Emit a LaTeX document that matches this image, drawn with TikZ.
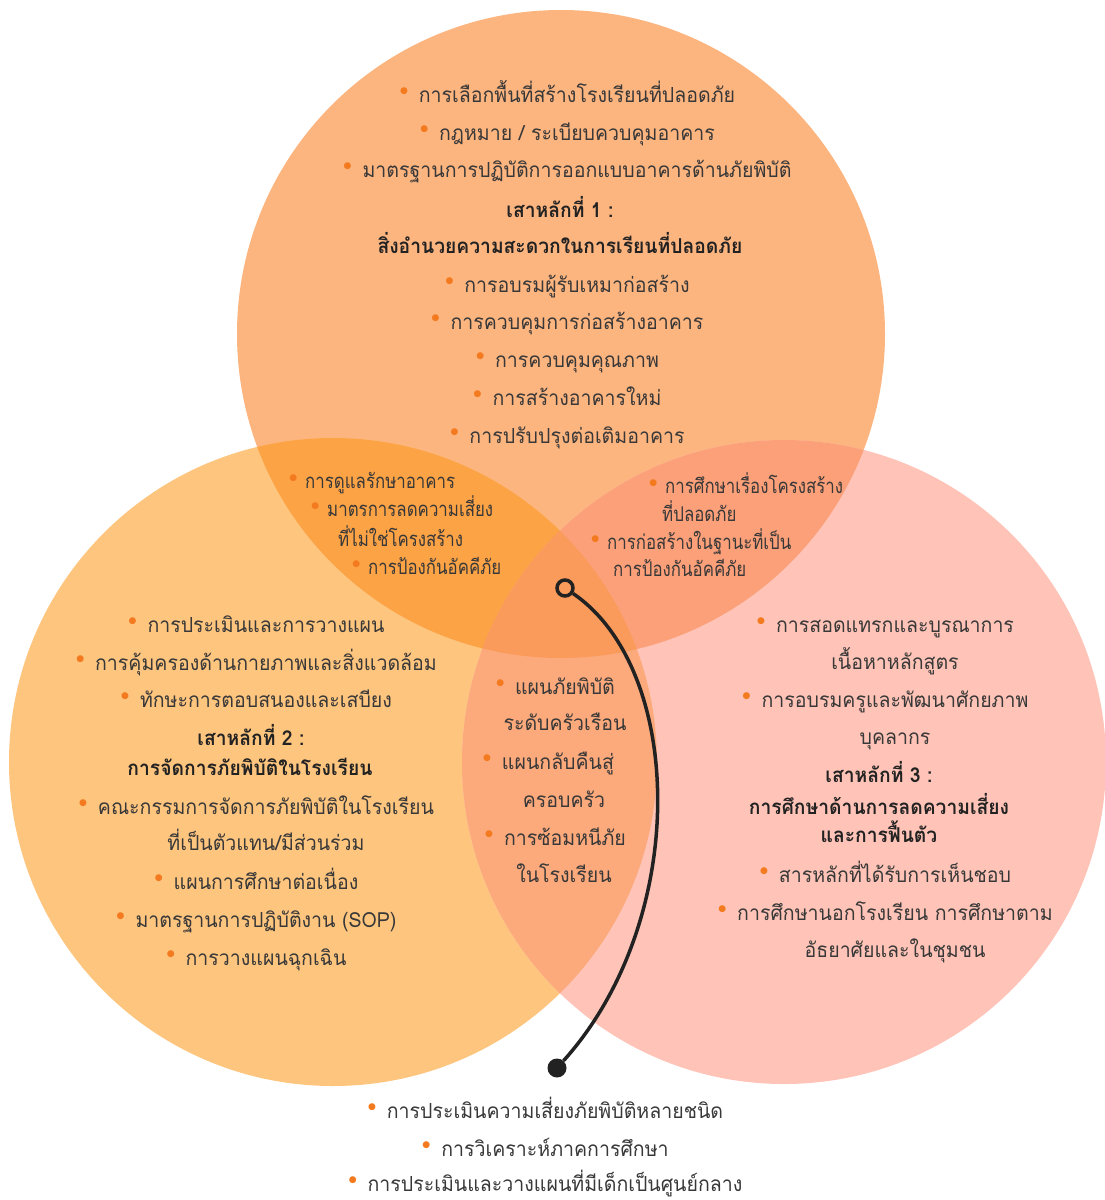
\documentclass[tikz,border=0pt]{standalone}
\usepackage{fontspec}
\setmainfont[Script=Thai, FakeStretch=0.94]{Loma}
\newfontfamily\narrowthai[Script=Thai, FakeStretch=0.83]{Loma}
\newfontfamily\dejavu{DejaVu Sans}
\definecolor{cT}{HTML}{FDB580}
\definecolor{cL}{HTML}{FEC57F}
\definecolor{cR}{HTML}{FFC4B7}
\definecolor{cTL}{HTML}{FCA346}
\definecolor{cTR}{HTML}{FBA079}
\definecolor{cLR}{HTML}{FCAA7C}
\definecolor{cTLR}{HTML}{FA9A5B}
\definecolor{txtcol}{HTML}{383838}
\definecolor{hdcol}{HTML}{222222}
\definecolor{bulcol}{HTML}{F47A1F}
\definecolor{linecol}{HTML}{222222}
\newcommand{\bl}{\llap{\raisebox{8.5pt}{\textcolor{bulcol}{\dejavu\fontsize{9}{9}\selectfont ●}}\hspace{11pt}}}
\newcommand{\bls}{\llap{\raisebox{8pt}{\textcolor{bulcol}{\dejavu\fontsize{9}{9}\selectfont ●}}\hspace{8pt}}}
\begin{document}
\begin{tikzpicture}[x=1pt,y=-1pt,
  txt/.style={font=\fontsize{20.8}{24}\selectfont, text=txtcol, inner sep=0pt, anchor=base},
  hd/.style={font=\fontsize{20.5}{24}\selectfont\bfseries, text=hdcol, inner sep=0pt, anchor=base},
  lt/.style={font=\narrowthai\fontsize{20.3}{23}\selectfont, text=txtcol, inner sep=0pt, anchor=base west},
  conn/.style={draw=linecol, line width=3.5pt},
  ringnode/.style={circle, draw=linecol, line width=3.5pt, minimum size=16pt, inner sep=0pt},
  dotnode/.style={circle, fill=linecol, minimum size=19pt, inner sep=0pt}]
\useasboundingbox (0,0) rectangle (1105,1200);
\coordinate (T) at (561,334);
\coordinate (L) at (333,762);
\coordinate (R) at (784,762);
% single circles
\fill[cT] (T) circle[radius=324pt];
\fill[cL] (L) circle[radius=324pt];
\fill[cR] (R) circle[radius=322pt];
% pairwise overlaps
\begin{scope}\clip (T) circle[radius=324pt]; \fill[cTL] (L) circle[radius=324pt];\end{scope}
\begin{scope}\clip (T) circle[radius=324pt]; \fill[cTR] (R) circle[radius=322pt];\end{scope}
\begin{scope}\clip (L) circle[radius=324pt]; \fill[cLR] (R) circle[radius=322pt];\end{scope}
\begin{scope}\clip (T) circle[radius=324pt]; \clip (L) circle[radius=324pt]; \fill[cTLR] (R) circle[radius=322pt];\end{scope}

% top circle
\node[txt] (t1) at (577,102) {\bl การเลือกพื้นที่สร้างโรงเรียนที่ปลอดภัย};
\node[txt] (t2) at (577,140) {\bl กฎหมาย / ระเบียบควบคุมอาคาร};
\node[txt] (t3) at (577,177) {\bl มาตรฐานการปฏิบัติการออกแบบอาคารด้านภัยพิบัติ};
\node[hd] (t4) at (560,217) {เสาหลักที่ 1 :};
\node[hd] (t5) at (560,253) {สิ่งอำนวยความสะดวกในการเรียนที่ปลอดภัย};
\node[txt] (t6) at (577,292) {\bl การอบรมผู้รับเหมาก่อสร้าง};
\node[txt] (t7) at (577,329) {\bl การควบคุมการก่อสร้างอาคาร};
\node[txt] (t8) at (577,367) {\bl การควบคุมคุณภาพ};
\node[txt] (t9) at (577,405) {\bl การสร้างอาคารใหม่};
\node[txt] (t10) at (577,443) {\bl การปรับปรุงต่อเติมอาคาร};

% top-left overlap
\node[lt] (tl1) at (305,488) {\bls การดูแลรักษาอาคาร};
\node[lt] (tl2) at (327,516) {\bls มาตรการลดความเสี่ยง};
\node[lt] (tl3) at (338,546) {ที่ไม่ใช่โครงสร้าง};
\node[lt] (tl4) at (368,574) {\bls การป้องกันอัคคีภัย};

% top-right overlap
\node[lt] (tr1) at (665,493) {\bls การศึกษาเรื่องโครงสร้าง};
\node[lt] (tr2) at (662,521) {ที่ปลอดภัย};
\node[lt] (tr3) at (607,549) {\bls การก่อสร้างในฐานะที่เป็น};
\node[lt] (tr4) at (613,576) {การป้องกันอัคคีภัย};

% left circle
\node[txt] (l1) at (266,632) {\bl การประเมินและการวางแผน};
\node[txt] (l2) at (266,670) {\bl การคุ้มครองด้านกายภาพและสิ่งแวดล้อม};
\node[txt] (l3) at (266,707) {\bl ทักษะการตอบสนองและเสบียง};
\node[hd] (l4) at (251,745) {เสาหลักที่ 2 :};
\node[hd] (l5) at (250,775) {การจัดการภัยพิบัติในโรงเรียน};
\node[txt] (l6) at (266,814) {\bl คณะกรรมการจัดการภัยพิบัติในโรงเรียน};
\node[txt] (l7) at (266,850) {ที่เป็นตัวแทน/มีส่วนร่วม};
\node[txt] (l8) at (266,889) {\bl แผนการศึกษาต่อเนื่อง};
\node[txt] (l9) at (266,927) {\bl มาตรฐานการปฏิบัติงาน (SOP)};
\node[txt] (l10) at (266,965) {\bl การวางแผนฉุกเฉิน};

% centre
\node[txt] (c1) at (565,694) {\bl แผนภัยพิบัติ};
\node[txt] (c2) at (565,730) {ระดับครัวเรือน};
\node[txt] (c3) at (558,769) {\bl แผนกลับคืนสู่};
\node[txt] (c4) at (564,807) {ครอบครัว};
\node[txt] (c5) at (565,845) {\bl การซ้อมหนีภัย};
\node[txt] (c6) at (564,882) {ในโรงเรียน};

% right circle
\node[txt] (r1) at (895,632) {\bl การสอดแทรกและบูรณาการ};
\node[txt] (r2) at (895,669) {เนื้อหาหลักสูตร};
\node[txt] (r3) at (895,707) {\bl การอบรมครูและพัฒนาศักยภาพ};
\node[txt] (r4) at (895,744) {บุคลากร};
\node[hd] (r5) at (879,782) {เสาหลักที่ 3 :};
\node[hd] (r6) at (879,814) {การศึกษาด้านการลดความเสี่ยง};
\node[hd] (r7) at (879,842) {และการฟื้นตัว};
\node[txt] (r8) at (895,882) {\bl สารหลักที่ได้รับการเห็นชอบ};
\node[txt] (r9) at (895,920) {\bl การศึกษานอกโรงเรียน การศึกษาตาม};
\node[txt] (r10) at (895,957) {อัธยาศัยและในชุมชน};

% bottom
\node[txt] (b1) at (555,1118) {\bl การประเมินความเสี่ยงภัยพิบัติหลายชนิด};
\node[txt] (b2) at (555,1156) {\bl การวิเคราะห์ภาคการศึกษา};
\node[txt] (b3) at (555,1191) {\bl การประเมินและวางแผนที่มีเด็กเป็นศูนย์กลาง};

% connector
\node[ringnode] (ring) at (565,588) {};
\node[dotnode] (dot) at (557,1068) {};
\draw[conn] (ring) .. controls (685,670) and (690,920) .. (dot);
\end{tikzpicture}
\end{document}
